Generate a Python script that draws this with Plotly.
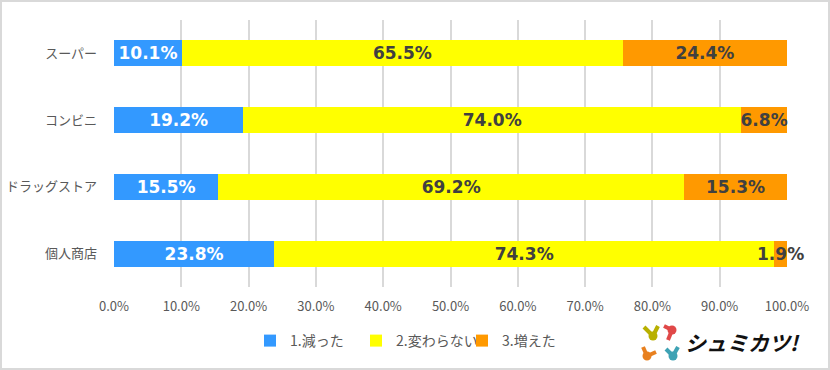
import plotly.graph_objects as go

categories = ["スーパー", "コンビニ", "ドラッグストア", "個人商店"]
series_names = ["1.減った", "2.変わらない", "3.増えた"]
decreased = [10.1, 19.2, 15.5, 23.8]
unchanged = [65.5, 74.0, 69.2, 74.3]
increased = [24.4, 6.8, 15.3, 1.9]
tick_vals = [0, 10, 20, 30, 40, 50, 60, 70, 80, 90, 100]
tick_text = [f"{v:.1f}%" for v in tick_vals]

colors = ["#3399FF", "#FFFF00", "#FF9900"]
text_colors = ["#FFFFFF", "#404040", "#404040"]

W, H = 830, 370
L, R, T, B = 114, 43, 20, 83
pw, ph = W - L - R, H - T - B

def px(x):
    return (x - L) / pw

def py(y):
    return (H - B - y) / ph

fig = go.Figure()
for name, vals, c, tc in zip(series_names, [decreased, unchanged, increased], colors, text_colors):
    fig.add_trace(go.Bar(
        y=categories, x=vals, name=name, orientation="h",
        marker=dict(color=c, line=dict(width=0)),
        text=[f"{v:.1f}%" for v in vals],
        textposition="inside", insidetextanchor="middle",
        constraintext="none", textangle=0,
        textfont=dict(family="DejaVu Sans", size=17, color=tc, weight="bold"),
        width=0.39,
        cliponaxis=False,
    ))

fig.update_layout(
    barmode="stack",
    width=W, height=H,
    margin=dict(l=L, r=R, t=T, b=B, pad=0, autoexpand=False),
    paper_bgcolor="white", plot_bgcolor="white",
    showlegend=True,
    legend=dict(orientation="h", x=px(250), xanchor="left", y=py(341), yanchor="middle",
                font=dict(family="Noto Sans CJK JP", size=14, color="#595959"),
                entrywidth=61, entrywidthmode="pixels", itemwidth=30,
                traceorder="normal", bgcolor="rgba(0,0,0,0)"),
    xaxis=dict(range=[0, 100], tickvals=tick_vals, ticktext=tick_text,
               showgrid=True, gridcolor="#D9D9D9", gridwidth=1.5,
               zeroline=False, showline=False, ticks="", automargin=False,
               tickfont=dict(family="Noto Sans CJK JP", size=13, color="#595959"),
               ticklabelstandoff=10, fixedrange=True),
    yaxis=dict(autorange=False, range=[3.5, -0.5], showgrid=False, zeroline=False,
               showline=False, ticks="", ticklabelstandoff=16, automargin=False,
               tickfont=dict(family="Noto Sans CJK JP", size=13, color="#595959"),
               fixedrange=True),
    font=dict(family="Noto Sans CJK JP"),
)

# outer border
fig.add_shape(type="rect", xref="paper", yref="paper",
              x0=px(1), x1=px(829), y0=py(369), y1=py(1),
              line=dict(color="#D9D9D9", width=2), fillcolor="rgba(0,0,0,0)", layer="below")

# logo icon: (body circle center, arm end points, colour)
icon = [
    ((653, 336), [(644, 327), (658, 326)], "#B8B000"),
    ((672, 330), [(664, 326), (668, 340)], "#E04848"),
    ((647, 356), [(643, 347), (656, 352)], "#E8801F"),
    ((673, 356), [(666, 349), (678, 347)], "#3EA2B4"),
]
for (cx, cy), arms, col in icon:
    for ax_, ay_ in arms:
        fig.add_shape(type="line", xref="paper", yref="paper",
                      x0=px(cx), y0=py(cy), x1=px(ax_), y1=py(ay_),
                      line=dict(color=col, width=4))
    fig.add_shape(type="circle", xref="paper", yref="paper",
                  x0=px(cx - 4.5), x1=px(cx + 4.5), y0=py(cy + 4.5), y1=py(cy - 4.5),
                  fillcolor=col, line=dict(width=0))
fig.add_annotation(xref="paper", yref="paper", x=px(683), y=py(342), xanchor="left", yanchor="middle",
                   text="<i>シュミカツ!</i>", showarrow=False,
                   font=dict(family="Noto Sans CJK JP", size=21, color="#111111", weight="bold"))

fig.write_html("out.html", post_script="document.body.style.margin='0';",
               config={"displayModeBar": False})
